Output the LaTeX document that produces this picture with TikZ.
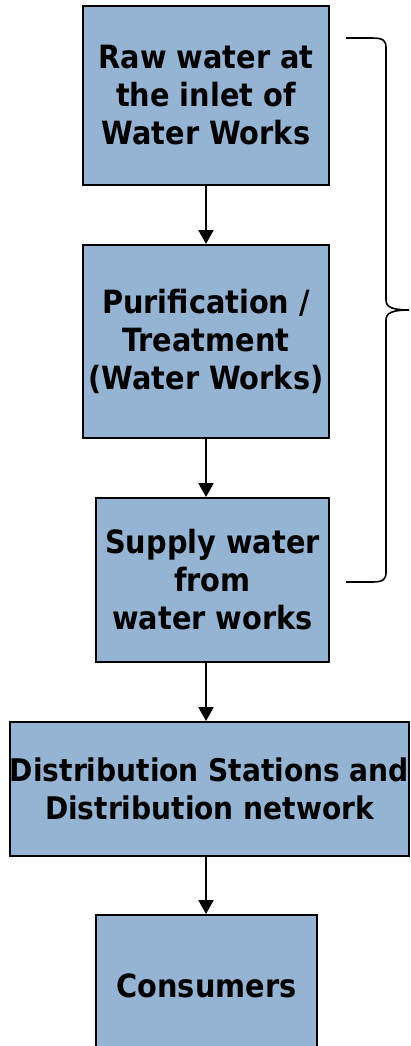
\documentclass[tikz,border=0pt]{standalone}
\usepackage{fontspec}
\setmainfont{DejaVu Sans Condensed}
\usepackage{tikz}
\usetikzlibrary{arrows.meta, positioning}

\definecolor{boxblue}{RGB}{149,179,210}

\begin{document}
\begin{tikzpicture}[
        x=1pt, y=-1pt,
        % Style for the stage boxes
        stage/.style={draw, fill=boxblue, line width=2pt, rectangle, inner sep=0pt, align=center,
            font=\bfseries\fontsize{32}{38}\selectfont},
        arrow/.style={-{Triangle[width=15pt, length=14pt]}, line width=2pt},
        brace/.style={line width=1.6pt}
    ]
    \useasboundingbox (0,0) rectangle (410,1046);

    % Stage nodes
    \node[stage, minimum width=246pt, minimum height=179pt] at (206, 95.5) (raw) {Raw water at\\ the inlet of\\ Water Works};
    \node[stage, minimum width=246pt, minimum height=193pt] at (206, 341.5) (treat) {Purification /\\ Treatment\\(Water Works)};
    \node[stage, minimum width=233pt, minimum height=164pt] at (212.5, 580) (supply) {Supply water\\ from\\ water works};
    \node[stage, minimum width=399pt, minimum height=134pt, font=\bfseries\fontsize{31.2}{38}\selectfont] at (209.5, 789) (distrib) {Distribution Stations and\\ Distribution network};
    \node[stage, minimum width=221pt, minimum height=142pt] at (206.5, 986) (consumers) {Consumers};

    % Drawing arrows between stages
    \draw[arrow] (raw.south) -- (raw.south |- treat.north);
    \draw[arrow] (treat.south) -- (treat.south |- supply.north);
    \draw[arrow] (supply.south -| raw.south) -- (raw.south |- distrib.north);
    \draw[arrow] (distrib.south -| raw.south) -- (raw.south |- consumers.north);

    % Brace over the water works stages
    \coordinate (btop) at (346, 38);
    \coordinate (bbot) at (346, 582);
    \draw[brace] (btop) -- (372, 38) .. controls (384, 38) and (386, 41) .. (386, 48)
        -- (386, 300) .. controls (386, 307) and (392, 310) .. (409, 310)
        .. controls (392, 310) and (386, 313) .. (386, 320)
        -- (386, 572) .. controls (386, 579) and (384, 582) .. (372, 582) -- (bbot);
\end{tikzpicture}
\end{document}
